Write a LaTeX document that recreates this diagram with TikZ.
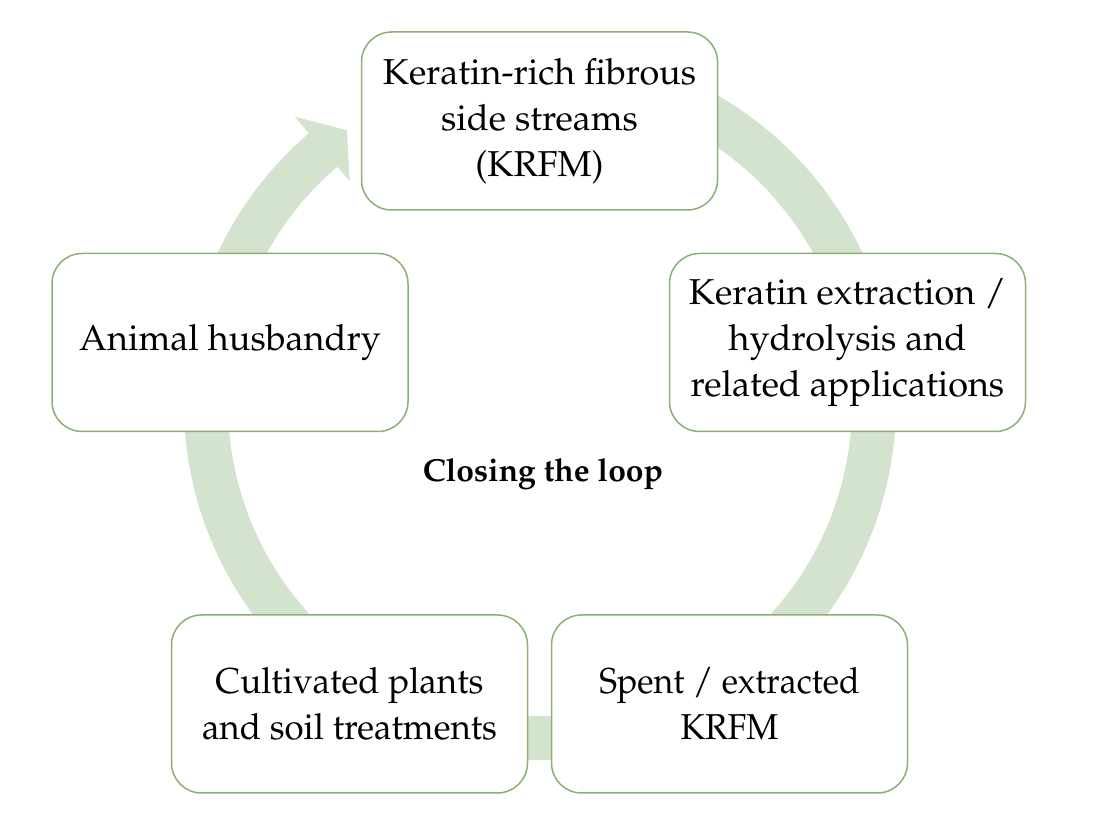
\documentclass[tikz,border=0pt]{standalone}
\usepackage[T1]{fontenc}
\usepackage{mathpazo}
\usepackage{graphicx}
\usetikzlibrary{calc}
\definecolor{boxline}{RGB}{140,175,118}
\definecolor{loopfill}{RGB}{212,227,205}
\newcommand\narrowtext[2]{\scalebox{#1}[1]{#2}}
\tikzset{
  stage/.style={draw=boxline, line width=0.75pt, fill=white, rounded corners=15pt,
    minimum width=178pt, minimum height=89pt, align=center, inner sep=0pt,
    font=\fontsize{18}{23}\selectfont},
  looplabel/.style={font=\bfseries\fontsize{15.9}{18}\selectfont, inner sep=0pt, anchor=base}
}
\begin{document}
\begin{tikzpicture}[x=0.5pt,y=0.5pt]
\useasboundingbox (0,0) rectangle (1100,824);
\coordinate (o) at (540,420);
% circular arrow
\fill[loopfill] ($(o)+(80:178pt)$) arc[start angle=80, end angle=-229.5, radius=178pt]
  -- ($(o)+(130.5:189pt)$) -- ($(o)+(125.2:167.5pt)$) -- ($(o)+(130.5:146.5pt)$)
  -- ($(o)+(130.5:156pt)$) arc[start angle=130.5, end angle=440, radius=156pt] -- cycle;
% stages
\node[stage] (krfm) at (539.5,703) {Keratin-rich fibrous\\side streams\\(KRFM)};
\node[stage] (ext) at (847.5,481.5) {Keratin extraction /\\hydrolysis and\\related applications};
\node[stage] (spent) at (729.5,120) {\narrowtext{0.94}{Spent / extracted}\\\narrowtext{0.94}{KRFM}};
\node[stage] (cult) at (349.5,120) {\narrowtext{0.97}{Cultivated plants}\\\narrowtext{0.97}{and soil treatments}};
\node[stage] (animal) at (230,481.5) {Animal husbandry};
\node[looplabel] (close) at (543,342) {Closing the loop};
\end{tikzpicture}
\end{document}
